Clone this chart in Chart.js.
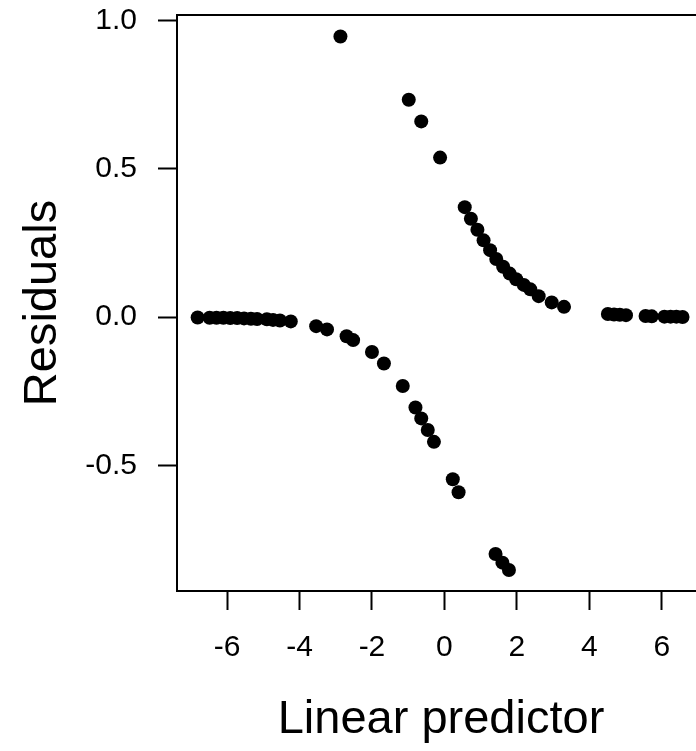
<!DOCTYPE html>
<html>
<head>
    <title>Residuals vs linear predictor</title>
    <script src="https://cdn.jsdelivr.net/npm/chart.js"></script>
    <style>
        body { margin: 0; overflow: hidden; background: #fff; }
    </style>
</head>
<body>
    <canvas id="residPlot" width="712" height="751"></canvas>
    <script>
        // observations with response 0 (lower branch)
        const linPredZero = [-6.81, -6.48, -6.29, -6.10, -5.91, -5.72, -5.53, -5.34, -5.17, -4.90, -4.73, -4.54, -4.24,
            -3.54, -3.24, -2.70, -2.52, -2.00, -1.67, -1.15, -0.80, -0.64, -0.46, -0.29, 0.23, 0.39, 1.41, 1.60, 1.78];
        const residZero = [-0.001, -0.002, -0.002, -0.002, -0.003, -0.003, -0.004, -0.005, -0.006, -0.007, -0.009, -0.011, -0.014,
            -0.030, -0.041, -0.064, -0.077, -0.117, -0.156, -0.232, -0.304, -0.341, -0.380, -0.420, -0.546, -0.590, -0.798, -0.827, -0.852];

        // observations with response 1 (upper branch)
        const linPredOne = [-2.87, -0.985, -0.64, -0.12, 0.56, 0.73, 0.91, 1.08, 1.26, 1.43, 1.62, 1.80, 1.98, 2.19,
            2.37, 2.60, 2.96, 3.30, 4.51, 4.68, 4.84, 5.01, 5.55, 5.72, 6.07, 6.24, 6.40, 6.57];
        const residOne = [0.946, 0.733, 0.660, 0.538, 0.371, 0.332, 0.295, 0.259, 0.226, 0.196, 0.170, 0.147, 0.128, 0.109,
            0.094, 0.071, 0.050, 0.035, 0.011, 0.009, 0.008, 0.007, 0.004, 0.003, 0.002, 0.002, 0.002, 0.001];

        const xTicks = [-6, -4, -2, 0, 2, 4, 6];
        const yTicks = [-0.5, 0.0, 0.5, 1.0];

        const points = [];
        linPredZero.forEach((x, i) => points.push({ x: x, y: residZero[i] }));
        linPredOne.forEach((x, i) => points.push({ x: x, y: residOne[i] }));

        const fontFamily = '"Liberation Sans", Arial, sans-serif';

        // R-style full box around the plotting region
        const plotBox = {
            id: 'plotBox',
            afterDraw(chart) {
                const a = chart.chartArea;
                const c = chart.ctx;
                c.save();
                c.strokeStyle = '#000';
                c.lineWidth = 2;
                c.strokeRect(a.left, a.top, a.right - a.left, a.bottom - a.top);
                c.restore();
            }
        };

        const ctx = document.getElementById('residPlot').getContext('2d');
        new Chart(ctx, {
            type: 'scatter',
            data: {
                datasets: [{
                    data: points,
                    pointRadius: 7,
                    pointHoverRadius: 7,
                    backgroundColor: '#000',
                    borderWidth: 0
                }]
            },
            plugins: [plotBox],
            options: {
                responsive: false,
                animation: false,
                devicePixelRatio: 1,
                layout: { padding: { top: 15, right: 4, bottom: 0, left: 0 } },
                plugins: {
                    legend: { display: false },
                    tooltip: { enabled: false }
                },
                scales: {
                    x: {
                        type: 'linear',
                        min: -7.38,
                        max: 7.19,
                        afterBuildTicks: (scale) => { scale.ticks = xTicks.map(v => ({ value: v })); },
                        afterFit: (scale) => {
                            scale.height = 160;
                            scale.paddingLeft = 0;
                            scale.paddingRight = 0;
                        },
                        grid: { drawOnChartArea: false, color: '#000', tickLength: 19, tickWidth: 2 },
                        border: { display: false },
                        ticks: {
                            color: '#000',
                            padding: 20,
                            font: { family: fontFamily, size: 30 },
                            callback: (v) => String(v)
                        },
                        title: {
                            display: true,
                            text: 'Linear predictor',
                            color: '#000',
                            font: { family: fontFamily, size: 47 },
                            padding: { top: 0, bottom: 3 }
                        }
                    },
                    y: {
                        type: 'linear',
                        min: -0.9226,
                        max: 1.0185,
                        afterBuildTicks: (scale) => { scale.ticks = yTicks.map(v => ({ value: v })); },
                        afterFit: (scale) => {
                            scale.width = 177;
                            scale.paddingTop = 0;
                            scale.paddingBottom = 0;
                        },
                        grid: { drawOnChartArea: false, color: '#000', tickLength: 19, tickWidth: 2 },
                        border: { display: false },
                        ticks: {
                            color: '#000',
                            padding: 21,
                            font: { family: fontFamily, size: 30 },
                            callback: (v) => Number(v).toFixed(1)
                        },
                        title: {
                            display: true,
                            text: 'Residuals',
                            color: '#000',
                            font: { family: fontFamily, size: 47 },
                            padding: { top: 15, bottom: 0 }
                        }
                    }
                }
            }
        });
    </script>
</body>
</html>
